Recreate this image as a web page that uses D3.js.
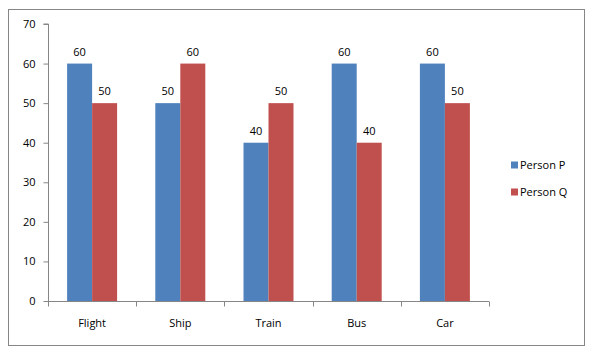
<!DOCTYPE html>
<html><head><meta charset="utf-8">
<script src="https://cdn.jsdelivr.net/npm/d3@7"></script>
<style>body{margin:0;background:#fff;} text{font-family:"Open Sans",sans-serif;font-size:11px;fill:#000;}</style>
</head><body>
<svg id="c" width="593" height="356"></svg>
<script>
const categories = ["Flight","Ship","Train","Bus","Car"];
const seriesNames = ["Person P","Person Q"];
const personP = [60,50,40,60,60];
const personQ = [50,60,50,40,50];
const yTicks = [0,10,20,30,40,50,60,70];
const colors = ["#4F81BD","#C0504D"];

const svg = d3.select("#c");
svg.append("rect").attr("x",8.5).attr("y",9.5).attr("width",576).attr("height",336)
  .attr("fill","#fff").attr("stroke","#868686").attr("stroke-width",1);

const pL=48, pR=489, pT=24, pB=301;
const x = d3.scaleBand().domain(categories).range([pL,pR]);
const y = d3.scaleLinear().domain([0,70]).range([pB,pT]);
const groupFrac = 50/88.2;
const xs = d3.scaleBand().domain(seriesNames).range([0, x.bandwidth()*groupFrac]);
const offset = (x.bandwidth() - x.bandwidth()*groupFrac)/2;

const data = categories.map((c,i)=>({c, vals:[personP[i], personQ[i]]}));

// y axis
const ya = svg.append("g").attr("transform",`translate(${pL+0.5},0)`)
  .call(d3.axisLeft(y).tickValues(yTicks).tickSize(5).tickPadding(8));
ya.selectAll("path,line").attr("stroke","#868686");
ya.select(".domain").attr("d",`M-5,${pT}H0V${pB}`);
ya.selectAll("text").style("font-size","11px").style("font-family","'Open Sans',sans-serif").attr("fill","#000");

// x axis
const xa = svg.append("g").attr("transform",`translate(0,${pB+0.5})`);
xa.append("line").attr("x1",pL).attr("x2",pR).attr("stroke","#868686");
const tickPos = categories.map(c=>x(c)).concat([pR]);
xa.selectAll("line.t").data(tickPos).join("line").attr("class","t")
  .attr("x1",d=>Math.round(d)+0.5).attr("x2",d=>Math.round(d)+0.5).attr("y1",0).attr("y2",5).attr("stroke","#868686");
xa.selectAll("text").data(categories).join("text")
  .attr("x",d=>x(d)+x.bandwidth()/2).attr("y",25).attr("text-anchor","middle").text(d=>d);

// bars
const g = svg.append("g");
data.forEach(d=>{
  d.vals.forEach((v,j)=>{
    const bx = x(d.c)+offset+xs(seriesNames[j]);
    g.append("rect").attr("x",bx).attr("y",y(v)).attr("width",xs.bandwidth()).attr("height",pB-y(v)).attr("fill",colors[j]);
    g.append("text").attr("x",bx+xs.bandwidth()/2).attr("y",y(v)-8).attr("text-anchor","middle").text(v);
  });
});

// legend
const lg = svg.append("g");
seriesNames.forEach((s,i)=>{
  const ly = 165 + i*27;
  lg.append("rect").attr("x",511).attr("y",ly-3.5).attr("width",7).attr("height",7).attr("fill",colors[i]);
  lg.append("text").attr("x",520).attr("y",ly+4).text(s);
});
</script>
</body></html>
